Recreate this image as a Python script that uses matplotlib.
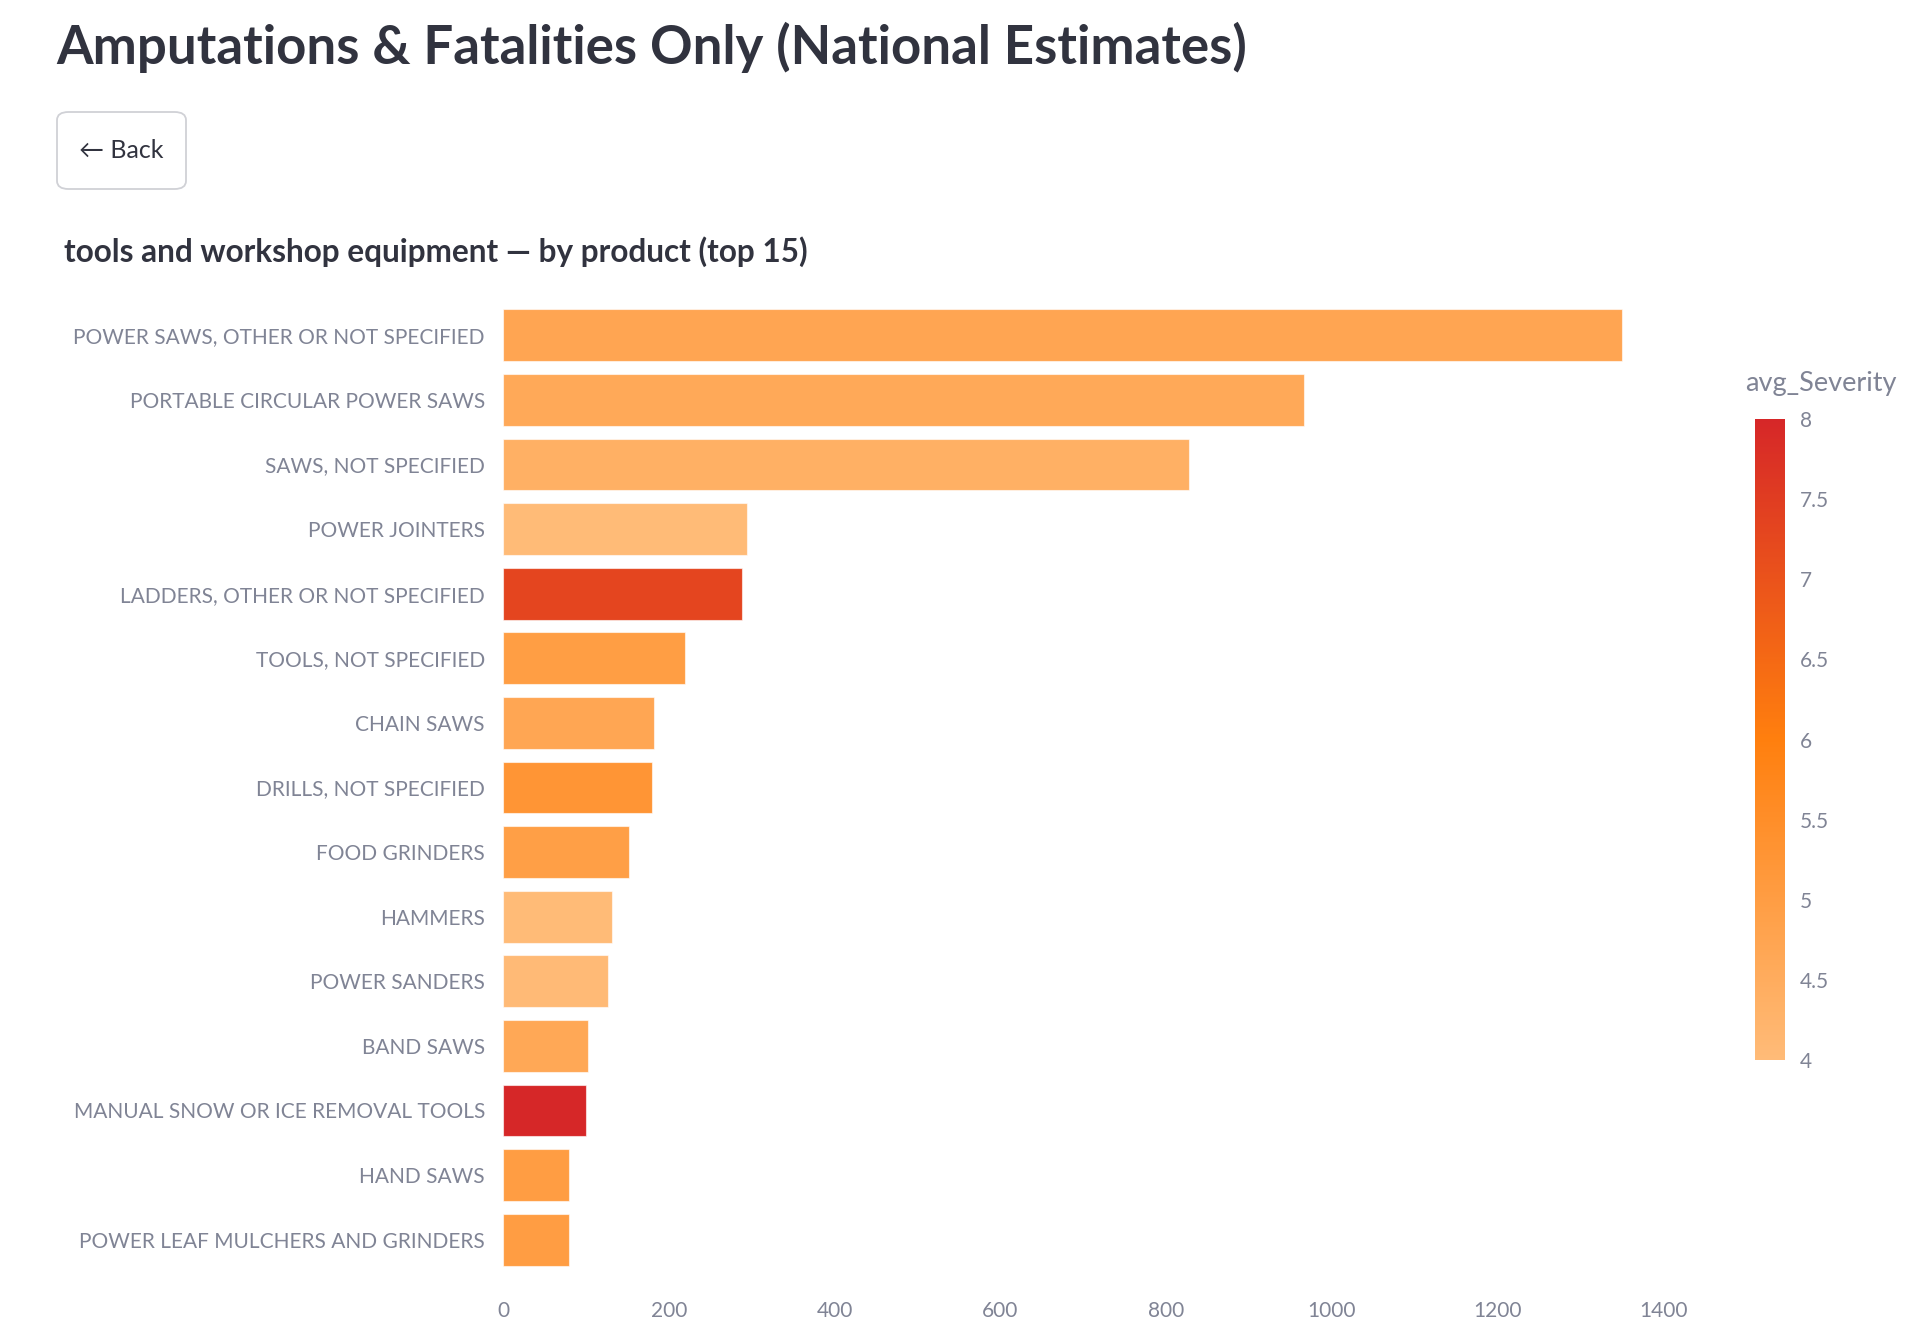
import matplotlib
matplotlib.use("Agg")
import matplotlib.pyplot as plt
import numpy as np
from matplotlib.colors import LinearSegmentedColormap, Normalize
from matplotlib.patches import FancyBboxPatch

products = [
    "POWER SAWS, OTHER OR NOT SPECIFIED",
    "PORTABLE CIRCULAR POWER SAWS",
    "SAWS, NOT SPECIFIED",
    "POWER JOINTERS",
    "LADDERS, OTHER OR NOT SPECIFIED",
    "TOOLS, NOT SPECIFIED",
    "CHAIN SAWS",
    "DRILLS, NOT SPECIFIED",
    "FOOD GRINDERS",
    "HAMMERS",
    "POWER SANDERS",
    "BAND SAWS",
    "MANUAL SNOW OR ICE REMOVAL TOOLS",
    "HAND SAWS",
    "POWER LEAF MULCHERS AND GRINDERS",
]
estimates = [1350, 966, 827, 294, 288, 219, 182, 180, 152, 131, 127, 103, 100, 80, 80]
avg_severity = [4.73, 4.6, 4.38, 4.02, 7.3, 4.97, 4.7, 5.25, 4.95, 4.03, 4.05, 4.65, 8.0, 5.0, 5.0]

x_ticks = [0, 200, 400, 600, 800, 1000, 1200, 1400]
cbar_ticks = [4, 4.5, 5, 5.5, 6, 6.5, 7, 7.5, 8]

FONT = ["Lato", "DejaVu Sans"]
DARK = "#31333f"
GREY = "#808495"

plt.rcParams["font.family"] = FONT

cmap = LinearSegmentedColormap.from_list("sev", ["#ffbb78", "#ff7f0e", "#d62728"])
norm = Normalize(vmin=4, vmax=8)

fig = plt.figure(figsize=(19.2, 13.44), dpi=100)

# page header (streamlit-like)
fig.text(56 / 1920, 1 - 47 / 1344, "Amputations & Fatalities Only (National Estimates)",
         fontsize=38, fontweight="bold", color=DARK, va="center", ha="left")
btn = FancyBboxPatch((57 / 1920, 1 - 189 / 1344), 129 / 1920, 77 / 1344,
                     boxstyle="round,pad=0,rounding_size=0.006", transform=fig.transFigure,
                     facecolor="white", edgecolor="#d0d1d6", linewidth=1.3)
fig.patches.append(btn)
fig.text(121 / 1920, 1 - 150 / 1344, "← Back", fontsize=18, color=DARK,
         ha="center", va="center")
fig.text(64 / 1920, 1 - 252 / 1344, "tools and workshop equipment — by product (top 15)",
         fontsize=22.7, fontweight="bold", color=DARK, ha="left", va="center")

ax = fig.add_axes([503 / 1920, 1 - 1272 / 1344, 1178 / 1920, 969 / 1344])
y = np.arange(len(products))
ax.barh(y, estimates, height=0.8, color=cmap(norm(np.array(avg_severity))),
        edgecolor=(1, 1, 1, 0.6), linewidth=0.8)
ax.set_ylim(len(products) - 0.5, -0.5)
ax.set_xlim(0, 1421)
ax.set_yticks(y)
ax.set_yticklabels(products)
ax.set_xticks(x_ticks)
ax.set_xticklabels([str(t) for t in x_ticks])
ax.tick_params(axis="y", length=0, pad=13, labelsize=15, labelcolor=GREY)
ax.tick_params(axis="x", length=0, pad=21, labelsize=15, labelcolor=GREY)
for s in ax.spines.values():
    s.set_visible(False)

cax = fig.add_axes([1755 / 1920, 1 - 1060 / 1344, 30 / 1920, 641 / 1344])
sm = plt.cm.ScalarMappable(norm=norm, cmap=cmap)
cb = fig.colorbar(sm, cax=cax)
cb.outline.set_visible(False)
cb.set_ticks(cbar_ticks)
cb.set_ticklabels([f"{t:g}" for t in cbar_ticks])
cax.tick_params(length=0, pad=11, labelsize=15, labelcolor=GREY)
fig.text(1821 / 1920, 1 - 383 / 1344, "avg_Severity", fontsize=19.5, color=GREY,
         ha="center", va="center")

fig.savefig("out.png", dpi=100)
